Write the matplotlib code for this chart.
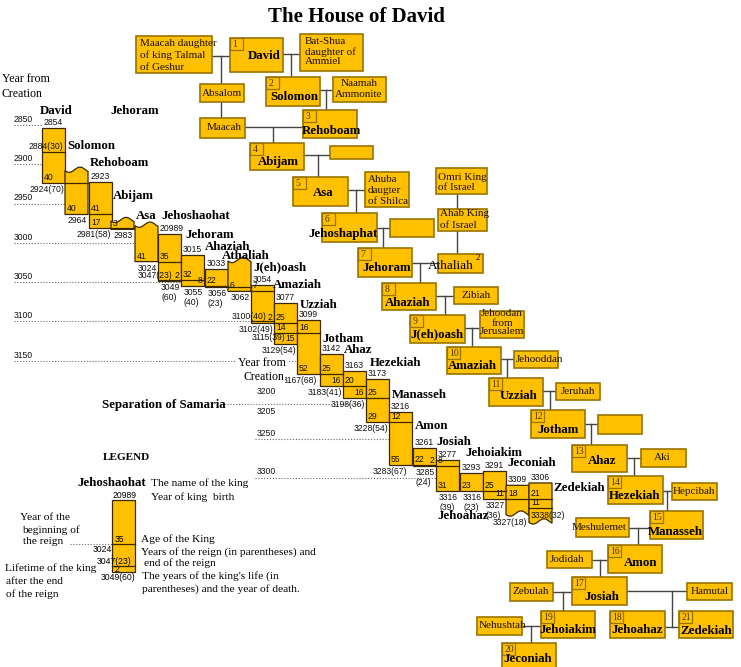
import matplotlib
matplotlib.use("Agg")
import matplotlib.pyplot as plt
import numpy as np
from matplotlib.patches import Rectangle, Polygon

# ======================= DATA =======================
kings = ["David", "Solomon", "Rehoboam", "Abijam", "Asa", "Jehoshaohat", "Jehoram",
         "Ahaziah", "Athaliah", "J(eh)oash", "Amaziah", "Uzziah", "Jotham", "Ahaz",
         "Hezekiah", "Manasseh", "Amon", "Josiah", "Jehoahaz", "Jehoiakim",
         "Jeconiah", "Zedekiah"]
birth_year = [2854, None, 2923, None, None, 2989, 3015, 3033, None, 3054, 3077, 3099,
              3142, 3163, 3173, 3216, 3261, 3277, 3293, 3291, 3309, 3306]
birth_text = ["2854", "", "2923", "", "", "20989", "3015", "3033", "", "3054", "3077",
              "3099", "3142", "3163", "3173", "3216", "3261", "3277", "3293", "3291",
              "3309", "3306"]
reign_start = [2884, 2924, 2964, 2981, 2983, 3024, 3047, 3055, 3056, 3062, 3102, 3115,
               3167, 3183, 3198, 3228, 3283, 3285, 3316, 3316, 3327, 3327]
reign_end = [2924, 2964, 2981, 2983, 3024, 3047, 3055, 3056, 3062, 3100, 3115, 3167,
             3183, 3198, 3228, 3283, 3285, 3316, 3316, 3327, 3327, 3338]
death_year = [2924, 2964, 2981, 2983, 3024, 3049, 3055, 3056, 3062, 3102, 3129, 3167,
              3183, 3198, 3228, 3283, 3285, 3316, 3316, 3327, None, None]
age_text = ["", "", "41", "", "", "35", "32", "22", "", "7", "25", "16", "25", "20",
            "25", "12", "22", "8", "23", "25", "18", "21"]
reign_text = ["40", "40", "17", "3", "41", "", "8", "", "6", "", "14", "52", "16", "16",
              "29", "55", "2", "31", "", "11", "", "11"]
after_text = ["", "", "", "", "", "2", "", "", "", "2", "15", "", "", "", "", "", "",
              "", "", "", "", "3338(32)"]
start_note = {"David": "2884(30)"}
end_note = {"Jehoshaohat": "3047(23)", "J(eh)oash": "3100(40)", "Amaziah": "3115(39)"}
death_note = ["2924(70)", "2964", "2981(58)", "2983", "3024", "3049\n(60)", "3055\n(40)",
              "3056\n(23)", "3062", "3102(49)", "3129(54)", "3167(68)", "3183(41)",
              "3198(36)", "3228(54)", "3283(67)", "3285\n(24)", "3316\n(39)",
              "3316\n(23)", "3327\n(36)", "3327(18)", ""]
axis_years = [2850, 2900, 2950, 3000, 3050, 3100, 3150]
axis_years_low = [3200, 3205, 3250, 3300]
grid_years_low = [3205, 3250, 3300]

tree_kings = ["David", "Solomon", "Rehoboam", "Abijam", "Asa", "Jehoshaphat", "Jehoram",
              "Ahaziah", "J(eh)oash", "Amaziah", "Uzziah", "Jotham", "Ahaz", "Hezekiah",
              "Manasseh", "Amon", "Josiah", "Jehoahaz", "Jehoiakim", "Jeconiah", "Zedekiah"]
tree_numbers = [1, 2, 3, 4, 5, 6, 7, 8, 9, 10, 11, 12, 13, 14, 15, 16, 17, 18, 19, 20, 21]
relatives = ["Maacah daughter\nof king Talmal\nof Geshur", "Bat-Shua\ndaughter of\nAmmiel",
             "Absalom", "Naamah\nAmmonite", "Maacah", "", "Ahuba\ndaugter\nof Shilca",
             "Omri King\nof Israel", "", "Ahab King\nof Israel", "", "Zibiah",
             "Jehoodan\nfrom\nJerusalem", "Jehooddan", "Jeruhah", "", "Aki", "Hepcibah",
             "Meshulemet", "Jodidah", "Zebulah", "Hamutal", "Nehushtah"]

# ======================= LAYOUT / STYLE =======================
W, H = 741, 667
PX0, YR0, PPY = 125.0, 2850, 0.785
FILL = "#FFC000"
BAR_EDGE = "#3a2800"
BOX_EDGE = "#9a7400"
LINK = "#444444"
SERIF = "Liberation Serif"
SANS = "Liberation Sans"
NAME_FS, NUM_FS, BOX_FS, LEG_FS = 9.3, 6.2, 8.0, 8.2

COL_X = [42, 65, 89, 111, 135, 158, 181, 205, 228, 251, 274, 297, 320, 343, 366, 389,
         413, 436, 460, 483, 506, 529]
COL_W = 23
WAVE_TOP = {"Solomon": 2907, "Abijam": 2971, "Asa": 2977, "Athaliah": 3022}
WAVE_BOT = {"Jeconiah": 3345, "Zedekiah": 3355}
WAVE_AMP = 2.6 / PPY
REIGN_RIGHT = {"Jehoram", "Jotham", "Ahaz", "Amon", "Jehoiakim"}
DEATH_DX = {"Uzziah": -3, "Manasseh": -5, "Jeconiah": -2}
NOTE_POS = {"David": (21, 5.5), "Jehoshaohat": (14, 4), "J(eh)oash": (16, 5),
            "Amaziah": (11, -4)}
TL_NAME_XY = [(40, 111), (67, 146), (90, 163), (113, 196), (136, 216), (161, 216),
              (185, 235), (205, 247), (222, 256), (253, 267), (273, 285), (300, 305),
              (322, 339), (344, 350), (370, 363), (392, 395), (415, 426), (436, 442),
              (437, 516), (465, 453), (507, 463), (553, 488)]
LOW_LABEL_DY = [8, -8, 5, 7]
LOW_GRID_X0 = [224, 255, 255]

TREE_BOX = [(230, 38, 283, 72), (266, 77, 320, 106), (303, 110, 357, 138),
            (250, 143, 304, 170), (293, 177, 348, 206), (322, 213, 377, 242),
            (358, 248, 412, 277), (382, 283, 436, 310), (410, 315, 465, 343),
            (447, 347, 501, 374), (489, 378, 543, 406), (531, 410, 585, 438),
            (572, 445, 627, 472), (608, 476, 663, 504), (650, 511, 703, 539),
            (608, 545, 662, 573), (572, 577, 627, 605), (610, 611, 665, 638),
            (541, 611, 595, 638), (502, 643, 556, 672), (679, 611, 733, 638)]
TREE_NAME_XY = [(264, 56), (294, 97), (332, 131), (278, 162), (323, 193), (343, 234),
                (387, 268), (408, 303), (437, 334), (472, 366), (519, 396), (558, 430),
                (602, 461), (635, 496), (675, 532), (641, 563), (602, 597), (637, 630),
                (568, 630), (528, 659), (706, 631)]
REL_BOX = [(136, 36, 212, 73), (300, 34, 363, 71), (200, 84, 244, 102),
           (333, 77, 386, 102), (200, 118, 245, 138), (330, 146, 373, 159),
           (365, 172, 409, 207), (436, 168, 487, 194), (390, 219, 434, 237),
           (438, 209, 487, 231), (438, 254, 483, 273), (454, 287, 498, 304),
           (480, 311, 524, 338), (514, 351, 558, 368), (556, 383, 600, 400),
           (598, 415, 642, 434), (641, 449, 686, 467), (672, 483, 717, 500),
           (576, 518, 629, 537), (547, 551, 592, 568), (510, 583, 553, 601),
           (687, 583, 732, 600), (477, 617, 522, 635)]
# (text x, first line y, line step, align)
REL_TEXT = [(140, 43, 12, "left"), (305, 42, 10, "left"), (222, 93, 0, "center"),
            (359, 84, 10.5, "center"), (224, 128, 0, "center"), None,
            (368, 179, 11.5, "left"), (438, 177, 10, "left"), None,
            (440, 214, 11, "left"), None, (476, 296, 0, "center"),
            (502, 314, 9, "center"), (516, 360, 0, "left"), (578, 391, 0, "center"),
            None, (662, 458, 0, "center"), (673, 491, 0, "left"),
            (572, 527, 0, "left"), (550, 560, 0, "left"), (531, 592, 0, "center"),
            (710, 591, 0, "center"), (479, 626, 0, "left")]
LINKS = [(212, 56, 230, 56), (221, 56, 221, 84), (221, 102, 221, 118),
         (283, 54, 300, 54), (291, 54, 291, 77), (320, 90, 333, 90), (326, 90, 326, 110),
         (245, 127, 303, 127), (273, 127, 273, 143), (304, 155, 330, 155),
         (318, 155, 318, 177), (348, 190, 365, 190), (356, 190, 356, 213),
         (457, 194, 457, 209), (457, 231, 457, 254), (377, 228, 390, 228),
         (383, 228, 383, 248), (412, 263, 438, 263), (420, 263, 420, 283),
         (436, 296, 454, 296), (445, 296, 445, 315), (465, 328, 480, 328),
         (472, 328, 472, 347), (501, 359, 514, 359), (507, 359, 507, 378),
         (543, 391, 556, 391), (550, 391, 550, 410), (585, 424, 598, 424),
         (591, 424, 591, 445), (627, 458, 641, 458), (634, 458, 634, 476),
         (663, 491, 672, 491), (667, 491, 667, 511), (629, 528, 650, 528),
         (638, 528, 638, 545), (592, 560, 608, 560), (600, 560, 600, 577),
         (553, 592, 572, 592), (563, 592, 563, 611), (627, 591, 687, 591),
         (672, 591, 672, 627), (665, 627, 679, 627), (522, 626, 541, 626),
         (531, 626, 531, 643)]

# ======================= FIGURE =======================
fig = plt.figure(figsize=(W / 100, H / 100), dpi=100)
fig.patch.set_facecolor("white")
ax = fig.add_axes([0, 0, 1, 1])          # pixel helper axes
ax.set_xlim(0, W)
ax.set_ylim(H, 0)
ax.axis("off")
axt = fig.add_axes([0, 0, 1, 1])         # timeline axes: y in years from creation
axt.axis("off")
axt.patch.set_alpha(0)
PX = ax.transData


def ptext(x, y, s, size=BOX_FS, family=SERIF, weight="normal", ha="left", va="center",
          **kw):
    return axt.text(x, y, s, transform=PX, fontsize=size, family=family,
                    fontweight=weight, ha=ha, va=va, **kw)


def ytext(x, year, s, dx=0, dy=0, ha="left", va="center", size=NUM_FS, z=4):
    axt.annotate(s, xy=(x, year), xycoords="data", xytext=(dx, dy),
                 textcoords="offset pixels", ha=ha, va=va, fontsize=size,
                 family=SANS, color="#111111", zorder=z)


def wave(x0, x1, yc, rev=False):
    xs = np.linspace(x0, x1, 40)
    ys = yc + WAVE_AMP * np.sin((xs - x0) / (x1 - x0) * 2 * np.pi * 1.05 + 0.4)
    pts = list(zip(xs, ys))
    return pts[::-1] if rev else pts


# ---- title
ptext(356, 17, "The House of David", size=15, weight="bold", ha="center")

# ---- timeline bars
tops, bots = [], []
for i, k in enumerate(kings):
    x0, x1 = COL_X[i], COL_X[i] + COL_W
    top = birth_year[i] if birth_year[i] is not None else WAVE_TOP[k]
    bot = death_year[i] if death_year[i] is not None else WAVE_BOT[k]
    tops.append(top)
    bots.append(bot)
    if birth_year[i] is None:
        pts = wave(x0, x1, top) + [(x1, bot), (x0, bot)]
        axt.add_patch(Polygon(pts, closed=True, fc=FILL, ec=BAR_EDGE, lw=0.9, zorder=2))
    elif death_year[i] is None:
        pts = [(x0, top), (x1, top)] + wave(x0, x1, bot, rev=True)
        axt.add_patch(Polygon(pts, closed=True, fc=FILL, ec=BAR_EDGE, lw=0.9, zorder=2))
    else:
        axt.add_patch(Rectangle((x0, top), COL_W, bot - top, fc=FILL, ec=BAR_EDGE,
                                lw=0.9, zorder=2))
    # section lines
    s, e = reign_start[i], reign_end[i]
    if (birth_year[i] is not None and top < s < bot) or \
       (birth_year[i] is None and s - top > 8 and s < bot):
        axt.plot([x0, x1], [s, s], color=BAR_EDGE, lw=0.9, zorder=2.5)
    if s < e < bot:
        axt.plot([x0, x1], [e, e], color=BAR_EDGE, lw=0.9, zorder=2.5)
    # numbers
    if birth_text[i]:
        ytext(x0 + 2, top, birth_text[i], dy=1, va="bottom")
    if age_text[i]:
        ytext(x0 + 2, s, age_text[i], dy=1, va="bottom")
    if reign_text[i]:
        if k in REIGN_RIGHT:
            ytext(x1 - 2, e, reign_text[i], dy=1, va="bottom", ha="right")
        else:
            ytext(x0 + 2, e, reign_text[i], dy=1, va="bottom")
    if after_text[i]:
        if len(after_text[i]) > 2:
            ytext(x0 + 2, e, after_text[i], dy=-7, va="center")
        else:
            ytext(x1 - 2, bot, after_text[i], dy=1, va="bottom", ha="right")
    if k in start_note:
        ndx, ndy = NOTE_POS[k]
        ytext(x0 + ndx, s, start_note[k], dy=ndy, ha="right")
    if k in end_note:
        ndx, ndy = NOTE_POS[k]
        ytext(x0 + ndx, e, end_note[k], dy=ndy, ha="right")
    dn = death_note[i]
    if dn:
        ybot = bot + (WAVE_AMP if death_year[i] is None else 0)
        if "(" in dn and "\n" not in dn:
            ytext(x1 + DEATH_DX.get(k, -1), ybot, dn, dy=-2, va="top", ha="right")
        else:
            for j, line in enumerate(dn.split("\n")):
                ytext(x0 + 3, ybot, line, dy=-2 - 10 * j, va="top")
    # name label
    nx, ny = TL_NAME_XY[i]
    ptext(nx, ny, k, size=NAME_FS, weight="bold", zorder=5)


def first_bar_left(year):
    for i in range(len(kings)):
        if bots[i] >= year:
            return COL_X[i]
    return COL_X[-1]


# ---- year grid
dots = dict(color="#666666", lw=0.8, linestyle=(0, (1, 1.6)), zorder=1)
for yv in axis_years:
    axt.plot([14, first_bar_left(yv)], [yv, yv], **dots)
    ytext(14, yv, str(yv), dy=1, va="bottom")
for yv, x0 in zip(grid_years_low, LOW_GRID_X0):
    axt.plot([x0, first_bar_left(yv)], [yv, yv], **dots)
for yv, ddy in zip(axis_years_low, LOW_LABEL_DY):
    ytext(257, yv, str(yv), dy=ddy, va="center")
ptext(102, 405, "Separation of Samaria", size=NAME_FS, weight="bold")
ptext(110, 111, "Jehoram", size=NAME_FS, weight="bold")

# ---- "Year from Creation"
ptext(2, 79, "Year from", size=8.6)
ptext(2, 94, "Creation", size=8.6)
ptext(238, 363, "Year from", size=8.6, zorder=6,
      bbox=dict(fc="white", ec="none", pad=0.6))
ptext(243, 377, "Creation", size=8.6, zorder=6,
      bbox=dict(fc="white", ec="none", pad=0.6))

# ---- legend
j = kings.index("Jehoshaohat")
ptext(103, 458, "LEGEND", size=8, weight="bold")
ptext(77, 483, kings[j], size=NAME_FS, weight="bold")
ptext(151, 483, "The name of the king", size=LEG_FS)
ptext(113, 496, birth_text[j], size=NUM_FS, family=SANS)
ptext(151, 497, "Year of king  birth", size=LEG_FS)
axt.add_patch(Rectangle((112, 500), 23, 72, fc=FILL, ec=BAR_EDGE, lw=0.9,
                        transform=PX, zorder=2))
axt.plot([112, 135], [544, 544], color=BAR_EDGE, lw=0.9, transform=PX, zorder=2.5)
axt.plot([112, 135], [566, 566], color=BAR_EDGE, lw=0.9, transform=PX, zorder=2.5)
axt.plot([70, 112], [544, 544], transform=PX, **dots)
ptext(115, 539, age_text[j], size=NUM_FS, family=SANS)
ptext(93, 549, str(reign_start[j]), size=NUM_FS, family=SANS)
ptext(97, 561, end_note[kings[j]], size=NUM_FS, family=SANS)
ptext(115, 569, after_text[j], size=NUM_FS, family=SANS)
ptext(101, 577, "%d(%d)" % (death_year[j], death_year[j] - birth_year[j]),
      size=NUM_FS, family=SANS)
ptext(20, 518, "Year of the", size=LEG_FS)
ptext(22, 530, "beginning of", size=LEG_FS)
ptext(23, 542, "the reign", size=LEG_FS)
ptext(141, 539, "Age of the King", size=LEG_FS)
ptext(141, 552, "Years of the reign (in parentheses) and", size=LEG_FS)
ptext(144, 563, "end of the reign", size=LEG_FS)
ptext(5, 568, "Lifetime of the king", size=LEG_FS)
ptext(6, 581, "after the end", size=LEG_FS)
ptext(6, 594, "of the reign", size=LEG_FS)
ptext(142, 576, "The years of the king's life (in", size=LEG_FS)
ptext(142, 589, "parentheses) and the year of death.", size=LEG_FS)

# ---- family tree
for (x0, y0, x1, y1) in LINKS:
    axt.plot([x0, x1], [y0, y1], color=LINK, lw=1.0, transform=PX, zorder=1)

for name, (x0, y0, x1, y1), txt in zip(relatives, REL_BOX, REL_TEXT):
    axt.add_patch(Rectangle((x0, y0), x1 - x0, y1 - y0, fc=FILL, ec=BOX_EDGE, lw=1.2,
                            transform=PX, zorder=2))
    if name and txt is not None:
        tx, ty, step, al = txt
        for n, line in enumerate(name.split("\n")):
            ptext(tx, ty + n * step, line, size=BOX_FS, ha=al, color="#1a1200")

# Athaliah (queen) label in the tree
ptext(428, 266, "Athaliah", size=9.5, zorder=5)
ptext(476, 258, "2", size=6.5, zorder=5)

for name, num, (x0, y0, x1, y1), (cx, cy) in zip(tree_kings, tree_numbers, TREE_BOX,
                                                  TREE_NAME_XY):
    axt.add_patch(Rectangle((x0, y0), x1 - x0, y1 - y0, fc=FILL, ec=BOX_EDGE, lw=1.2,
                            transform=PX, zorder=2))
    axt.add_patch(Rectangle((x0, y0), 13, 12, fc=FILL, ec=BOX_EDGE, lw=0.9,
                            transform=PX, zorder=2.2))
    ptext(x0 + 2.5, y0 + 6.5, str(num), size=7, color="#4a3300")
    ptext(cx, cy, name, size=NAME_FS, weight="bold", ha="center")

axt.set_xlim(0, W)
axt.set_ylim(YR0 + (H - PX0) / PPY, YR0 - PX0 / PPY)
fig.savefig("out.png", dpi=100, facecolor="white")
